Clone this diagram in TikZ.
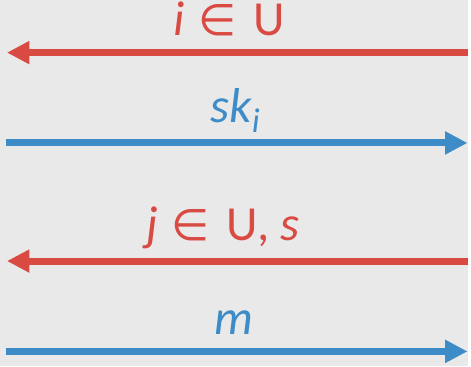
\documentclass[tikz,border=0pt]{standalone}
\usepackage{fontspec}
\setmainfont{Carlito}
\newfontfamily\symfont{DejaVu Sans}
\usetikzlibrary{arrows.meta}
\definecolor{paper}{HTML}{E9E9E9}
\definecolor{req}{HTML}{D94A43}
\definecolor{resp}{HTML}{3E8CC7}
\newcommand{\lowsub}[1]{\raisebox{-8pt}{\fontsize{26}{28}\selectfont #1}}
\newcommand{\elem}{\hspace{10pt}{\symfont\fontsize{33}{33}\selectfont ∈}\hspace{13pt}}

\begin{document}
\begin{tikzpicture}[x=0.75pt, y=-0.75pt,
  font=\fontsize{37}{40}\selectfont,
  msg/.style={line width=5.25pt, -{Triangle[length=17pt, width=16.5pt]}},
  lbl/.style={anchor=base, inner sep=0pt}
]
  \fill[paper] (0,0) rectangle (471,369);

  % left and right ends of the four messages
  \coordinate (a1) at (471,53);  \coordinate (b1) at (7,53);
  \coordinate (a2) at (6,144);   \coordinate (b2) at (471,144);
  \coordinate (a3) at (471,263); \coordinate (b3) at (7,263);
  \coordinate (a4) at (6,354);   \coordinate (b4) at (471,354);

  \foreach \n/\c in {1/req, 2/resp, 3/req, 4/resp} \draw[msg, \c] (a\n) -- (b\n);

  \node[lbl, req] (t1) at (231,36) {\textit{i}\elem U};
  \node[lbl, resp] (t2) at (237,123) {\textit{sk\lowsub{i}}};
  \node[lbl, req] (t3) at (225,242) {\textit{j}\elem U, \textit{s}};
  \node[lbl, resp] (t4) at (236,337) {\textit{m}};
\end{tikzpicture}
\end{document}
